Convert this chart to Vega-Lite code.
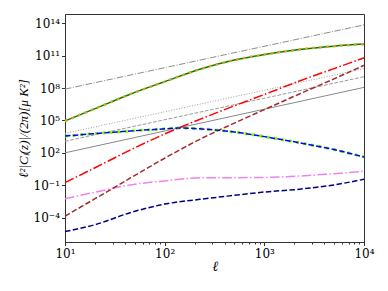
{
  "$schema": "https://vega.github.io/schema/vega-lite/v6.json",
  "width": 299,
  "height": 228,
  "autosize": "none",
  "padding": {"left": 65, "top": 14, "right": 24, "bottom": 49},
  "background": "white",
  "config": {
    "view": {"stroke": "#333333", "strokeWidth": 1},
    "axis": {"grid": false, "labelFont": "DejaVu Serif", "titleFont": "Liberation Serif", "labelColor": "black", "titleColor": "black", "tickColor": "#333333", "domainColor": "#333333", "labelFontSize": 12}
  },
  "data": {"values": [
    {"s": "gdd", "l": 10, "v": 7.94e7}, {"s": "gdd", "l": 10000, "v": 7.08e13},
    {"s": "gdot", "l": 10, "v": 6310}, {"s": "gdot", "l": 10000, "v": 6.31e9},
    {"s": "gdash", "l": 10, "v": 1175}, {"s": "gdash", "l": 10000, "v": 1.12e9},
    {"s": "gsolid", "l": 10, "v": 100}, {"s": "gsolid", "l": 10000, "v": 1.15e8},
    {"s": "green", "l": 10, "v": 8.91e4}, {"s": "green", "l": 20, "v": 1.23e6}, {"s": "green", "l": 45, "v": 2.69e7}, {"s": "green", "l": 100, "v": 3.89e8}, {"s": "green", "l": 225, "v": 5.5e9}, {"s": "green", "l": 500, "v": 3.89e10}, {"s": "green", "l": 1000, "v": 1.26e11}, {"s": "green", "l": 2250, "v": 3.72e11}, {"s": "green", "l": 5000, "v": 7.59e11}, {"s": "green", "l": 10000, "v": 1.17e12},
    {"s": "blue", "l": 10, "v": 3548}, {"s": "blue", "l": 20, "v": 6026}, {"s": "blue", "l": 45, "v": 1.047e4}, {"s": "blue", "l": 100, "v": 1.66e4}, {"s": "blue", "l": 141, "v": 2.0e4}, {"s": "blue", "l": 225, "v": 1.66e4}, {"s": "blue", "l": 355, "v": 1.2e4}, {"s": "blue", "l": 500, "v": 8511}, {"s": "blue", "l": 708, "v": 5248}, {"s": "blue", "l": 1000, "v": 3162}, {"s": "blue", "l": 2250, "v": 851}, {"s": "blue", "l": 5000, "v": 200}, {"s": "blue", "l": 10000, "v": 40.7},
    {"s": "red", "l": 10, "v": 0.174}, {"s": "red", "l": 20, "v": 4.17}, {"s": "red", "l": 45, "v": 178}, {"s": "red", "l": 100, "v": 5623}, {"s": "red", "l": 225, "v": 1.26e5}, {"s": "red", "l": 500, "v": 2.24e6}, {"s": "red", "l": 1000, "v": 2.51e7}, {"s": "red", "l": 2250, "v": 4.47e8}, {"s": "red", "l": 5000, "v": 6.31e9}, {"s": "red", "l": 10000, "v": 6.31e10},
    {"s": "brown", "l": 10, "v": 1.35e-4}, {"s": "brown", "l": 20, "v": 5.62e-3}, {"s": "brown", "l": 45, "v": 0.447}, {"s": "brown", "l": 100, "v": 31.6}, {"s": "brown", "l": 225, "v": 1778}, {"s": "brown", "l": 500, "v": 5.62e4}, {"s": "brown", "l": 1000, "v": 1.0e6}, {"s": "brown", "l": 2250, "v": 2.82e7}, {"s": "brown", "l": 5000, "v": 7.08e8}, {"s": "brown", "l": 10000, "v": 1.26e10},
    {"s": "violet", "l": 10, "v": 5.62e-3}, {"s": "violet", "l": 20, "v": 0.0224}, {"s": "violet", "l": 45, "v": 0.107}, {"s": "violet", "l": 100, "v": 0.251}, {"s": "violet", "l": 225, "v": 0.479}, {"s": "violet", "l": 500, "v": 0.501}, {"s": "violet", "l": 1000, "v": 0.525}, {"s": "violet", "l": 2250, "v": 0.708}, {"s": "violet", "l": 5000, "v": 1.175}, {"s": "violet", "l": 10000, "v": 1.905},
    {"s": "navy", "l": 10, "v": 5.13e-6}, {"s": "navy", "l": 20, "v": 2.19e-5}, {"s": "navy", "l": 45, "v": 2.82e-4}, {"s": "navy", "l": 100, "v": 1.78e-3}, {"s": "navy", "l": 225, "v": 4.9e-3}, {"s": "navy", "l": 500, "v": 0.0115}, {"s": "navy", "l": 1000, "v": 0.0234}, {"s": "navy", "l": 2250, "v": 0.0427}, {"s": "navy", "l": 5000, "v": 0.107}, {"s": "navy", "l": 10000, "v": 0.355}
  ]},
  "resolve": {"axis": {"x": "independent", "y": "independent"}},
  "layer": [
    {
      "transform": [{"filter": "datum.s == 'gdd'"}],
      "mark": {"type": "line", "color": "#8c8c8c", "strokeWidth": 1, "strokeDash": [6.4, 1.6, 1, 1.6]},
      "encoding": {
        "x": {"field": "l", "type": "quantitative", "scale": {"type": "log", "domain": [10, 10000], "nice": false},
          "axis": {"orient": "bottom", "values": [10, 100, 1000, 10000], "tickSize": 3.5, "labelPadding": 3, "labelFlush": false,
            "labelExpr": "datum.value < 50 ? '10¹' : datum.value < 500 ? '10²' : datum.value < 5000 ? '10³' : '10⁴'",
            "title": "ℓ", "titleFontSize": 14, "titleFontStyle": "italic", "titleFontWeight": "bold", "titleX": 150, "titleY": 17, "titleBaseline": "top"}},
        "y": {"field": "v", "type": "quantitative", "scale": {"type": "log", "domain": [5.5e-7, 7.2e14], "nice": false},
          "axis": {"orient": "left", "values": [1e-4, 0.1, 100, 1e5, 1e8, 1e11, 1e14], "tickSize": 3.5, "labelPadding": 2,
            "labelExpr": "datum.value < 1e-3 ? '10⁻⁴' : datum.value < 1 ? '10⁻¹' : datum.value < 1e3 ? '10²' : datum.value < 1e6 ? '10⁵' : datum.value < 1e9 ? '10⁸' : datum.value < 1e12 ? '10¹¹' : '10¹⁴'",
            "title": "ℓ²|Cₗ(z)|/(2π)[μ K²]", "titleFontSize": 13, "titleFontStyle": "italic", "titleFontWeight": "normal", "titleX": -35, "titleY": 114, "titleAngle": -90, "titleAlign": "center", "titleBaseline": "bottom"}}
      }
    },
    {
      "transform": [{"filter": "datum.s == 'gdot'"}],
      "mark": {"type": "line", "color": "#a0a0a0", "strokeWidth": 1, "strokeDash": [1, 1.65]},
      "encoding": {
        "x": {"field": "l", "type": "quantitative", "scale": {"type": "log", "domain": [10, 10000], "nice": false}, "axis": null},
        "y": {"field": "v", "type": "quantitative", "scale": {"type": "log", "domain": [5.5e-7, 7.2e14], "nice": false}, "axis": null}
      }
    },
    {
      "transform": [{"filter": "datum.s == 'gdash'"}],
      "mark": {"type": "line", "color": "#999999", "strokeWidth": 1, "strokeDash": [3.7, 1.6]},
      "encoding": {
        "x": {"field": "l", "type": "quantitative", "scale": {"type": "log", "domain": [10, 10000], "nice": false}, "axis": null},
        "y": {"field": "v", "type": "quantitative", "scale": {"type": "log", "domain": [5.5e-7, 7.2e14], "nice": false}, "axis": null}
      }
    },
    {
      "transform": [{"filter": "datum.s == 'gsolid'"}],
      "mark": {"type": "line", "color": "#888888", "strokeWidth": 1},
      "encoding": {
        "x": {"field": "l", "type": "quantitative", "scale": {"type": "log", "domain": [10, 10000], "nice": false}, "axis": null},
        "y": {"field": "v", "type": "quantitative", "scale": {"type": "log", "domain": [5.5e-7, 7.2e14], "nice": false}, "axis": null}
      }
    },
    {
      "transform": [{"filter": "datum.s == 'navy'"}],
      "mark": {"type": "line", "color": "#000080", "strokeWidth": 1.5, "strokeDash": [5.5, 2.4], "interpolate": "monotone"},
      "encoding": {
        "x": {"field": "l", "type": "quantitative", "scale": {"type": "log", "domain": [10, 10000], "nice": false},
          "axis": {"orient": "bottom", "values": [20, 30, 40, 50, 60, 70, 80, 90, 200, 300, 400, 500, 600, 700, 800, 900, 2000, 3000, 4000, 5000, 6000, 7000, 8000, 9000], "labels": false, "tickSize": 2, "domain": false, "title": null}},
        "y": {"field": "v", "type": "quantitative", "scale": {"type": "log", "domain": [5.5e-7, 7.2e14], "nice": false}, "axis": null}
      }
    },
    {
      "transform": [{"filter": "datum.s == 'violet'"}],
      "mark": {"type": "line", "color": "#ee82ee", "strokeWidth": 1.5, "strokeDash": [9.6, 2.4, 1.5, 2.4], "interpolate": "monotone"},
      "encoding": {
        "x": {"field": "l", "type": "quantitative", "scale": {"type": "log", "domain": [10, 10000], "nice": false}, "axis": null},
        "y": {"field": "v", "type": "quantitative", "scale": {"type": "log", "domain": [5.5e-7, 7.2e14], "nice": false}, "axis": null}
      }
    },
    {
      "transform": [{"filter": "datum.s == 'brown'"}],
      "mark": {"type": "line", "color": "#a52a2a", "strokeWidth": 1.5, "strokeDash": [5.5, 2.4], "interpolate": "monotone"},
      "encoding": {
        "x": {"field": "l", "type": "quantitative", "scale": {"type": "log", "domain": [10, 10000], "nice": false}, "axis": null},
        "y": {"field": "v", "type": "quantitative", "scale": {"type": "log", "domain": [5.5e-7, 7.2e14], "nice": false}, "axis": null}
      }
    },
    {
      "transform": [{"filter": "datum.s == 'red'"}],
      "mark": {"type": "line", "color": "#ff0000", "strokeWidth": 1.5, "strokeDash": [9.6, 2.4, 1.5, 2.4], "interpolate": "monotone"},
      "encoding": {
        "x": {"field": "l", "type": "quantitative", "scale": {"type": "log", "domain": [10, 10000], "nice": false}, "axis": null},
        "y": {"field": "v", "type": "quantitative", "scale": {"type": "log", "domain": [5.5e-7, 7.2e14], "nice": false}, "axis": null}
      }
    },
    {
      "transform": [{"filter": "datum.s == 'blue'"}],
      "mark": {"type": "line", "color": "#7cfc00", "strokeWidth": 3, "strokeDash": [3, 4.5], "interpolate": "monotone"},
      "encoding": {
        "x": {"field": "l", "type": "quantitative", "scale": {"type": "log", "domain": [10, 10000], "nice": false}, "axis": null},
        "y": {"field": "v", "type": "quantitative", "scale": {"type": "log", "domain": [5.5e-7, 7.2e14], "nice": false}, "axis": null}
      }
    },
    {
      "transform": [{"filter": "datum.s == 'blue'"}],
      "mark": {"type": "line", "color": "#0000ff", "strokeWidth": 1.5, "strokeDash": [5.5, 2.4], "interpolate": "monotone"},
      "encoding": {
        "x": {"field": "l", "type": "quantitative", "scale": {"type": "log", "domain": [10, 10000], "nice": false}, "axis": null},
        "y": {"field": "v", "type": "quantitative", "scale": {"type": "log", "domain": [5.5e-7, 7.2e14], "nice": false}, "axis": null}
      }
    },
    {
      "transform": [{"filter": "datum.s == 'green'"}],
      "mark": {"type": "line", "color": "#008000", "strokeWidth": 1.5, "interpolate": "monotone"},
      "encoding": {
        "x": {"field": "l", "type": "quantitative", "scale": {"type": "log", "domain": [10, 10000], "nice": false}, "axis": null},
        "y": {"field": "v", "type": "quantitative", "scale": {"type": "log", "domain": [5.5e-7, 7.2e14], "nice": false}, "axis": null}
      }
    },
    {
      "transform": [{"filter": "datum.s == 'green'"}],
      "mark": {"type": "line", "color": "#daa520", "strokeWidth": 2.5, "strokeDash": [2.5, 4.5], "interpolate": "monotone"},
      "encoding": {
        "x": {"field": "l", "type": "quantitative", "scale": {"type": "log", "domain": [10, 10000], "nice": false}, "axis": null},
        "y": {"field": "v", "type": "quantitative", "scale": {"type": "log", "domain": [5.5e-7, 7.2e14], "nice": false}, "axis": null}
      }
    }
  ]
}
